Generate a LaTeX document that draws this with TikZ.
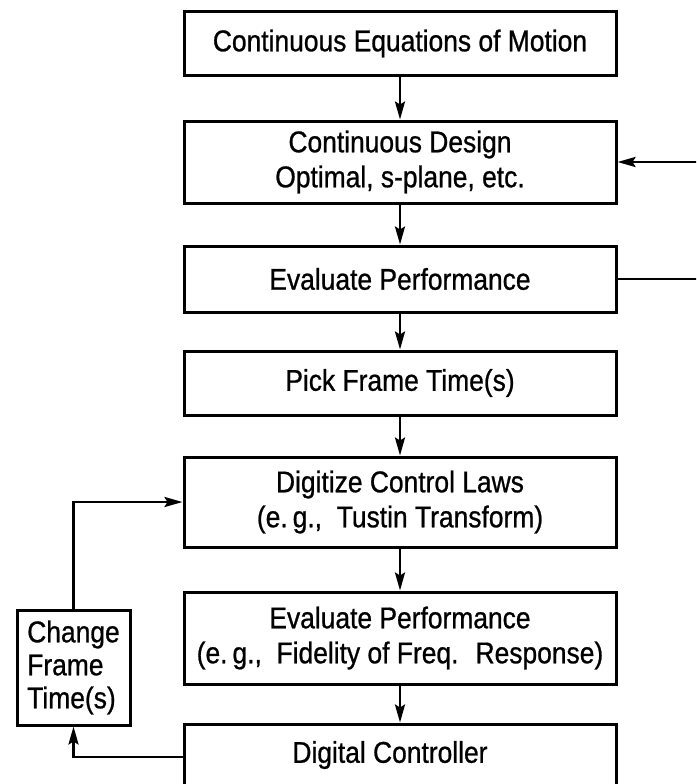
\documentclass[tikz,border=0pt]{standalone}
\usepackage{fontspec}
\setmainfont{Liberation Sans}[FakeStretch=0.88,FakeBold=0.8]
\usetikzlibrary{arrows.meta}
\begin{document}
\begin{tikzpicture}[x=1pt,y=-1pt,
  box/.style={draw, line width=3pt, minimum width=432pt, align=center, inner sep=0pt,
    font=\fontsize{30}{35}\selectfont},
  sidebox/.style={draw, line width=3pt, minimum width=113pt, minimum height=115pt, align=left, inner sep=0pt,
    font=\fontsize{30}{33}\selectfont},
  conn/.style={line width=2.6pt, -{Stealth[length=18pt,width=10pt,inset=3pt]}},
  plain/.style={line width=2.6pt}]
\useasboundingbox (0,0) rectangle (696,784);
\clip (0,0) rectangle (696,784);
\node[box, minimum height=63pt] (b1) at (400,43.5) {Continuous Equations of Motion};
\node[box, minimum height=82pt] (b2) at (400,162) {Continuous Design\\ Optimal, s-plane, etc.};
\node[box, minimum height=66pt] (b3) at (400,279) {Evaluate Performance};
\node[box, minimum height=64pt] (b4) at (400,383) {Pick Frame Time(s)};
\node[box, minimum height=90pt] (b5) at (400,502) {Digitize Control Laws\\(e.\,g., \ Tustin Transform)};
\node[box, minimum height=92pt] (b6) at (400,638) {Evaluate Performance\\(e.\,g., \ Fidelity of Freq. \ Response)};
\node[box, minimum height=66pt, text depth=0pt] (b7) at (400,757) {};
\node[font=\fontsize{30}{35}\selectfont] (t7) at (390,755) {Digital Controller};
\node[sidebox] (cf) at (73.5,667.5) {Change\\Frame\\Time(s)};
\coordinate (rx) at (720,0);
\draw[conn] (b1) -- (b2);
\draw[conn] (b2) -- (b3);
\draw[conn] (b3) -- (b4);
\draw[conn] (b4) -- (b5);
\draw[conn] (b5) -- (b6);
\draw[conn] (b6) -- (b7);
\draw[conn] (b3.east) -- (b3.east -| rx) |- (b2.east);
\draw[conn] (b7.west) -| (cf.south);
\draw[conn] (cf.north) |- (b5.west);
\end{tikzpicture}
\end{document}
